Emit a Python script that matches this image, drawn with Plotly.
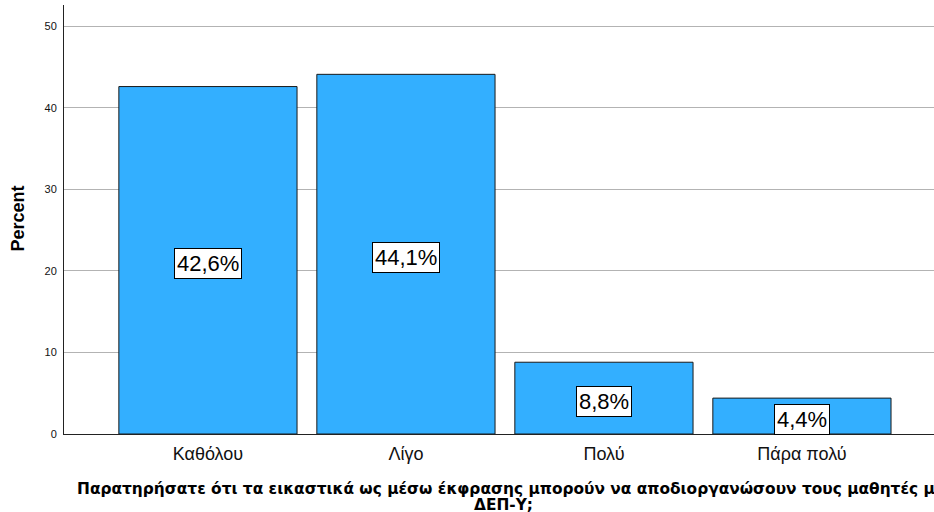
import plotly.graph_objects as go

# Survey responses and their percentages
categories = ["Καθόλου", "Λίγο", "Πολύ", "Πάρα πολύ"]
percents = [42.6, 44.1, 8.8, 4.4]
value_labels = ["42,6%", "44,1%", "8,8%", "4,4%"]
y_ticks = [0, 10, 20, 30, 40, 50]

question_line1 = ("Παρατηρήσατε ότι τα εικαστικά ως μέσω έκφρασης μπορούν να "
                  "αποδιοργανώσουν τους μαθητές με")
question_line2 = "ΔΕΠ-Υ;"

FONT = "Liberation Sans, Arial, sans-serif"
TITLE_FONT = "DejaVu Sans, Verdana, sans-serif"
W, H = 934, 512
ML, MR, MT, MB = 64, 0, 5, 78
plot_w = W - ML - MR
plot_h = H - MT - MB


def px_x(px):
    return (px - ML) / plot_w


def px_y(py):
    return (H - MB - py) / plot_h


fig = go.Figure()
fig.add_trace(go.Bar(
    x=list(range(len(categories))),
    y=percents,
    marker=dict(color="#33AFFF", line=dict(color="#1a1a1a", width=1)),
    width=0.9,
    hoverinfo="skip",
))

# Boxed percentage labels at mid-height of each bar
for i, (v, lab) in enumerate(zip(percents, value_labels)):
    fig.add_annotation(
        x=i, y=v / 2, xref="x", yref="y", text=lab, showarrow=False,
        yshift=-3,
        font=dict(family=FONT, size=22, color="black"),
        bgcolor="white", bordercolor="black", borderwidth=1, borderpad=2,
    )

# X-axis title (two lines, bold)
fig.add_annotation(
    x=px_x(75), y=px_y(489), xref="paper", yref="paper",
    xanchor="left", yanchor="middle", text="<b>" + question_line1 + "</b>",
    showarrow=False, font=dict(family=TITLE_FONT, size=15.4, color="black"),
)
fig.add_annotation(
    x=px_x(503), y=px_y(505), xref="paper", yref="paper",
    xanchor="center", yanchor="middle", text="<b>" + question_line2 + "</b>",
    showarrow=False, font=dict(family=TITLE_FONT, size=15.4, color="black"),
)
# Y-axis title
fig.add_annotation(
    x=px_x(17), y=px_y(218.5), xref="paper", yref="paper",
    xanchor="center", yanchor="middle", text="<b>Percent</b>", showarrow=False,
    textangle=-90, font=dict(family=FONT, size=18, color="black"),
)

fig.update_layout(
    width=W, height=H,
    margin=dict(l=ML, r=MR, t=MT, b=MB),
    paper_bgcolor="white", plot_bgcolor="white",
    showlegend=False,
    font=dict(family=FONT, color="black"),
    xaxis=dict(
        range=[-0.727, 3.667],
        tickmode="array", tickvals=list(range(len(categories))), ticktext=categories,
        tickfont=dict(size=18, color="#111"),
        showgrid=False, zeroline=False,
        showline=True, linecolor="#222", linewidth=1,
        ticks="outside", ticklen=3, tickcolor="rgba(0,0,0,0)",
    ),
    yaxis=dict(
        range=[0, 52.6],
        tickmode="array", tickvals=y_ticks,
        tickfont=dict(size=11, color="#111"),
        showgrid=True, gridcolor="#b3b3b3", gridwidth=1,
        zeroline=False,
        showline=True, linecolor="#222", linewidth=1,
        ticks="outside", ticklen=4, tickcolor="rgba(0,0,0,0)",
    ),
)

fig.write_html("out.html")
